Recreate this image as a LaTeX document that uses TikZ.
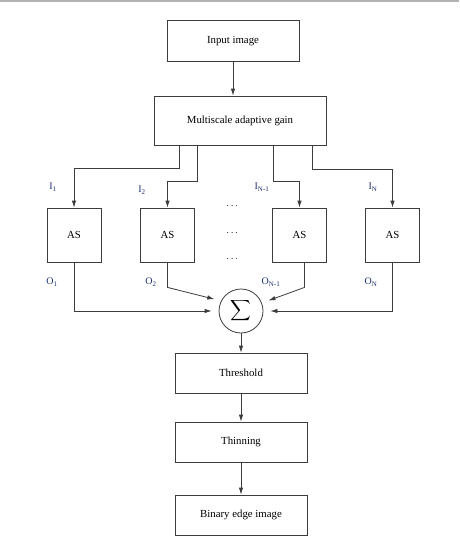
\documentclass[tikz,border=0pt]{standalone}
\usepackage{amsmath}
\usepackage{fontspec}
\setmainfont{Liberation Serif}
\usepackage{xcolor}
\usetikzlibrary{arrows.meta}
\definecolor{labblue}{HTML}{1F2F6E}
\definecolor{linegray}{HTML}{3C3C3C}

\begin{document}
\begin{tikzpicture}[x=1pt, y=-1pt,
  box/.style={draw=linegray, line width=0.8pt, inner sep=0pt,
    minimum width=132pt, minimum height=40pt, font=\fontsize{10.8}{13}\selectfont},
  asbox/.style={box, minimum width=54pt, minimum height=54pt},
  lab/.style={text=labblue, inner sep=0pt, font=\fontsize{10}{12}\selectfont},
  arr/.style={draw=linegray, line width=0.8pt, -{Latex[length=7pt,width=4.5pt]}}]
  \useasboundingbox (0,0) rectangle (459,546);
  \draw[gray!60, line width=1.5pt] (0,1) -- (459,1);
  % blocks
  \node[box, minimum height=41pt] (inp) at (233,41) {Input image};
  \node[box, minimum width=172pt, minimum height=49pt] (gain) at (240,120.5) {Multiscale adaptive gain};
  \node[asbox] (as1) at (74,235) {AS};
  \node[asbox] (as2) at (167.5,235) {AS};
  \node[asbox] (as3) at (299.5,235) {AS};
  \node[asbox] (as4) at (392.5,235) {AS};
  \node[draw=linegray, line width=0.8pt, circle, minimum size=44pt, inner sep=0pt,
    font=\fontsize{15}{18}\selectfont] (sum) at (241,311) {$\displaystyle\sum$};
  \node[box] (thr) at (241,373) {Threshold};
  \node[box] (thin) at (241,442) {Thinning};
  \node[box] (bin) at (241,515) {Binary edge image};
  % labels
  \node[lab] (i1) at (53,187) {I\textsubscript{1}};
  \node[lab] (i2) at (142,190) {I\textsubscript{2}};
  \node[lab] (in1) at (262,187) {I\textsubscript{N-1}};
  \node[lab] (in) at (373,187) {I\textsubscript{N}};
  \node[lab] (o1) at (52,282) {O\textsubscript{1}};
  \node[lab] (o2) at (151,282) {O\textsubscript{2}};
  \node[lab] (on1) at (271,282) {O\textsubscript{N-1}};
  \node[lab] (on) at (371,282) {O\textsubscript{N}};
  \node (dots1) at (233,206) {$\cdots$};
  \node (dots2) at (233,233) {$\cdots$};
  \node (dots3) at (233,259) {$\cdots$};
  % connectors
  \draw[arr] (inp.south) -- (inp.south |- gain.north);
  \draw[arr] ([xshift=-61pt]gain.south) -- ++(0,23) -| (as1.north);
  \draw[arr] ([xshift=-43pt]gain.south) -- ++(0,36) -| (as2.north);
  \draw[arr] ([xshift=33pt]gain.south) -- ++(0,36) -| (as3.north);
  \draw[arr] ([xshift=72pt]gain.south) -- ++(0,24) -| (as4.north);
  \draw[arr, shorten >=7pt] (as1.south) |- (sum.west);
  \draw[arr, shorten >=7pt] (as2.south) -- ++(0,25) -- (sum.153);
  \draw[arr, shorten >=7pt] ([xshift=5pt]as3.south) -- ++(0,25) -- (sum.21);
  \draw[arr, shorten >=7pt] (as4.south) |- (sum.east);
  \draw[arr] (sum.south) -- (thr.north);
  \draw[arr] (thr.south) -- (thin.north);
  \draw[arr] (thin.south) -- (bin.north);
\end{tikzpicture}
\end{document}
